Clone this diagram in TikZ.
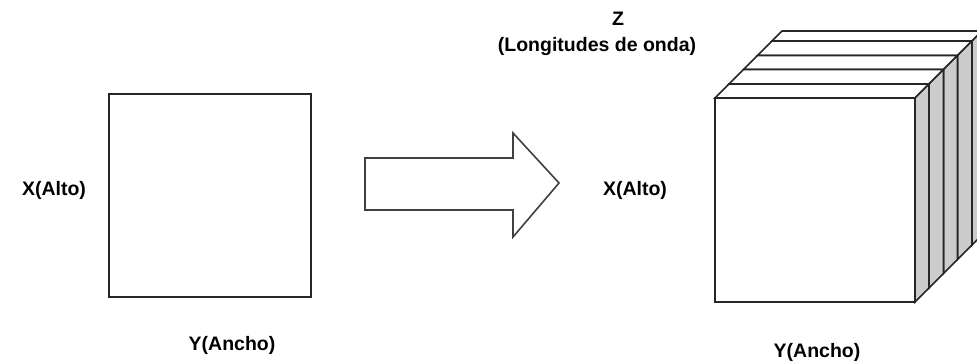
\documentclass[tikz,border=0pt]{standalone}
\usepackage{fontspec}
\setmainfont{Liberation Sans}
\begin{document}
\begin{tikzpicture}[x=1pt,y=-1pt,line width=1.6pt,line join=miter,
  lbl/.style={font=\bfseries\fontsize{19.5}{22}\selectfont,inner sep=0pt},
  face/.style={draw=black!85,fill=white},
  side/.style={draw=black!85,fill=black!20}]
\useasboundingbox (0,0) rectangle (977,362);
\clip (0,0) rectangle (977,362);
% left image square
\node[draw=black!85,minimum width=202pt,minimum height=203pt,inner sep=0pt] (img) at (210,195.5) {};
% big arrow
\draw[draw=black!75,fill=white] (365,158) -- (513,158) -- (513,133) -- (559,183) -- (513,237) -- (513,210) -- (365,210) -- cycle;
% hyperspectral cube (slabs, back to front)
\foreach \d/\n in {57/67,42.5/57,28.5/42.5,14/28.5,0/14}{
  \filldraw[face] (715+\d,98-\d) -- (715+\n,98-\n) -- (915+\n,98-\n) -- (915+\d,98-\d) -- cycle;
  \filldraw[side] (915+\d,98-\d) -- (915+\n,98-\n) -- (915+\n,302-\n) -- (915+\d,302-\d) -- cycle;
  \filldraw[face] (715+\d,98-\d) rectangle (915+\d,302-\d);
}
% labels
\node[lbl] (z) at (618,19) {Z};
\node[lbl] (zl) at (597,46) {(Longitudes de onda)};
\node[lbl] (xl) at (54,190) {X(Alto)};
\node[lbl] (yl) at (232,345) {Y(Ancho)};
\node[lbl] (xr) at (635,190) {X(Alto)};
\node[lbl] (yr) at (817,352) {Y(Ancho)};
\end{tikzpicture}
\end{document}
